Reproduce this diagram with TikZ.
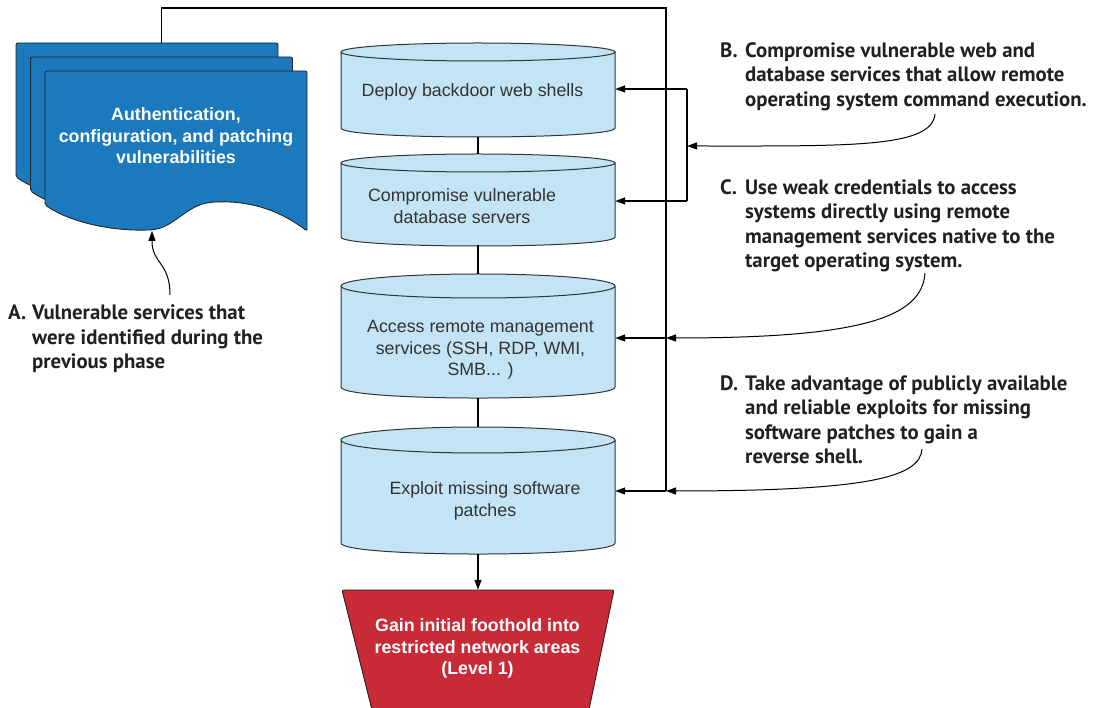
\documentclass[tikz,border=0pt]{standalone}
\usepackage{fontspec}
\setmainfont{Liberation Sans}
\newfontfamily\annotfont{PT Sans}
\usetikzlibrary{arrows.meta}
\definecolor{docblue}{RGB}{27,122,190}
\definecolor{cylfill}{RGB}{194,228,245}
\definecolor{redbox}{RGB}{200,42,56}
\definecolor{txtgray}{RGB}{51,51,51}
\definecolor{annotc}{RGB}{35,31,32}
\begin{document}
\begin{tikzpicture}[x=1pt,y=-1pt,
  conn/.style={draw=black, line width=1.2pt},
  arr/.style={conn, -{Triangle[length=10pt,width=7pt]}},
  carr/.style={draw=black, line width=1pt, -{Triangle[length=10pt,width=7pt]}},
  box/.style={draw=none, inner sep=0pt},
  cyl/.style={draw=txtgray, line width=1pt, fill=cylfill},
  docpage/.style={draw=black!85, line width=0.9pt, fill=docblue, rounded corners=2pt},
  cyltext/.style={inner sep=0pt, align=center, text=txtgray, font=\fontsize{17.8}{21.5}\selectfont},
  whitetext/.style={inner sep=0pt, align=center, text=white, font=\fontsize{17.8}{21.5}\selectfont\bfseries},
  annot/.style={inner sep=0pt, anchor=north west, align=left, text=annotc, font=\annotfont\bfseries\fontsize{20.8}{24.5}\selectfont}
]
\useasboundingbox (0,0) rectangle (1098,708);

% ---------- document stack ----------
\foreach \dx/\dy in {-29/-28,-14.5/-14,0/0}{
  \begin{scope}[shift={(\dx,\dy)}]
    \path[docpage] (45,205) -- (45,71) -- (307,71) -- (307,231)
      .. controls (275,207) and (245,201) .. (215,202)
      .. controls (185,204) and (175,229) .. (148,230)
      .. controls (110,231) and (70,222) .. (45,205) -- cycle;
  \end{scope}
}
\node[box, minimum width=291pt, minimum height=188pt] (doc) at (161.5,137) {};
\node[whitetext] (doctext) at (176,136) {Authentication,\\configuration, and patching\\vulnerabilities};

% ---------- cylinders ----------
% c1
\path[cyl] (341,52) -- (341,128) .. controls (341,140) and (615,140) .. (615,128) -- (615,52);
\path[cyl] (478,52) ellipse [x radius=137, y radius=9];
\node[box, minimum width=274pt, minimum height=94pt] (c1) at (478,90) {};
\node[cyltext] (t1) at (472.5,92) {Deploy backdoor web shells};
% c2
\path[cyl] (341,163) -- (341,237) .. controls (341,249) and (615,249) .. (615,237) -- (615,163);
\path[cyl] (478,163) ellipse [x radius=137, y radius=9];
\node[box, minimum width=274pt, minimum height=91pt] (c2) at (478,199.5) {};
\node[cyltext] (t2) at (462,206) {Compromise vulnerable\\database servers};
% c3
\path[cyl] (341,286) -- (341,387) .. controls (341,401.7) and (615,401.7) .. (615,387) -- (615,286);
\path[cyl] (478,286) ellipse [x radius=137, y radius=12];
\node[box, minimum width=274pt, minimum height=124pt] (c3) at (478,336) {};
\node[cyltext] (t3) at (480.5,350) {Access remote management\\services (SSH, RDP, WMI,\\SMB... )};
% c4
\path[cyl] (341,440) -- (341,543) .. controls (341,557.7) and (615,557.7) .. (615,543) -- (615,440);
\path[cyl] (478,440) ellipse [x radius=137, y radius=13];
\node[box, minimum width=274pt, minimum height=127pt] (c4) at (478,490.5) {};
\node[cyltext] (t4) at (485,501) {Exploit missing software\\patches};

% ---------- red trapezoid ----------
\path[fill=redbox, draw=black!85, line width=0.9pt, rounded corners=2pt]
  (342,590) -- (614,590) -- (588.5,712) -- (372.5,712) -- cycle;
\node[box, minimum width=272pt, minimum height=118pt] (foot) at (478,649) {};
\node[whitetext] (t5) at (477.5,648.5) {Gain initial foothold into\\restricted network areas\\(Level 1)};

% ---------- vertical connectors ----------
\draw[conn] (c1.south) -- (c2.north);
\draw[conn] (c2.south) -- (c3.north);
\draw[conn] (c3.south) -- (c4.north);
\draw[arr] (c4.south) -- (foot.north);

% ---------- junction coordinates ----------
\coordinate (top) at (666,8);
\coordinate (jC) at (666,338);
\coordinate (jD) at (666,491);
\coordinate (jB1) at (687,89);
\coordinate (jB2) at (687,201);
\coordinate (jB) at (687,146);

\draw[conn] (doc.north) |- (top) -- (jD);
\draw[conn] (jB1) -- (jB2);
\draw[arr] (jB1) -- (jB1 -| c1.east);
\draw[arr] (jB2) -- (jB2 -| c2.east);
\draw[arr] (jC) -- (jC -| c3.east);
\draw[arr] (jD) -- (jD -| c4.east);

% ---------- annotations ----------
\node[annot] (annA) at (8,305) {\makebox[24pt][l]{A.}Vulnerable services that\\\hspace*{24pt}were identified during the\\\hspace*{24pt}previous phase};
\node[annot] (annB) at (720,42) {\makebox[25pt][l]{B.}Compromise vulnerable web and\\\hspace*{25pt}database services that allow remote\\\hspace*{25pt}operating system command execution.};
\node[annot] (annC) at (720,179) {\makebox[25pt][l]{C.}Use weak credentials to access\\\hspace*{25pt}systems directly using remote\\\hspace*{25pt}management services native to the\\\hspace*{25pt}target operating system.};
\node[annot] (annD) at (720,375.5) {\makebox[25pt][l]{D.}Take advantage of publicly available\\\hspace*{25pt}and reliable exploits for missing\\\hspace*{25pt}software patches to gain a\\\hspace*{25pt}reverse shell.};

\coordinate (sA) at (170,295);
\coordinate (sB) at (935,114);
\coordinate (sC) at (925,273);
\coordinate (sD) at (922,449);
\coordinate (tipA) at (152,231);

\draw[carr] (sA) .. controls (170,262) and (152,264) .. (tipA);
\draw[carr] (sB) .. controls (932,148) and (850,146) .. (jB);
\draw[carr] (sC) .. controls (922,318) and (860,338) .. (jC);
\draw[carr] (sD) .. controls (920,477) and (870,491) .. (jD);
\end{tikzpicture}
\end{document}
